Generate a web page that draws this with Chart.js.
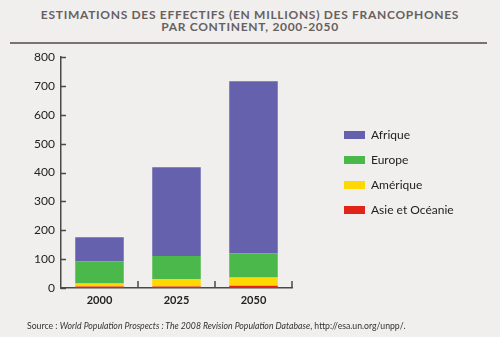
<!DOCTYPE html>
<html>
<head>
<meta charset="utf-8">
<script src="https://cdn.jsdelivr.net/npm/chart.js@4"></script>
<style>
  html, body { margin: 0; padding: 0; background: #f0efed; }
  #wrap { position: relative; width: 500px; height: 337px; overflow: hidden; }
  #title {
    position: absolute; top: 9px; left: 0; width: 500px; text-align: center;
    font: bold 12px/12px Lato, sans-serif; color: #676060; letter-spacing: 0.7px;
  }
  #rule { position: absolute; top: 42px; left: 10px; width: 477px; height: 2px; background: #7a7272; }
  #source {
    position: absolute; top: 320px; left: 27px;
    font: 8.7px Lato, sans-serif; color: #333;
  }
  canvas { position: absolute; top: 0; left: 0; }
</style>
</head>
<body>
<div id="wrap">
  <div id="title">ESTIMATIONS DES EFFECTIFS (EN MILLIONS) DES FRANCOPHONES<br>PAR CONTINENT, 2000-2050</div>
  <div id="rule"></div>
  <canvas id="chart" width="500" height="337"></canvas>
  <div id="source">Source : <i>World Population Prospects : The 2008 Revision Population Database</i>, http://esa.un.org/unpp/.</div>
</div>
<script>
const years = ["2000", "2025", "2050"];
const asie = [5, 5, 8];
const amerique = [11, 25, 28];
const europe = [76, 81, 84];
const afrique = [84, 307, 596];
const yTicks = [0, 100, 200, 300, 400, 500, 600, 700, 800];

// ticks drawn inside the axes, like the original
const innerTicks = {
  id: "innerTicks",
  afterDraw(chart) {
    const { ctx, scales: { x, y } } = chart;
    ctx.save();
    ctx.strokeStyle = "#4a4a4a";
    ctx.lineWidth = 1.5;
    ctx.beginPath();
    yTicks.forEach(v => {
      const py = Math.round(y.getPixelForValue(v)) + 0.5;
      ctx.moveTo(x.left, py);
      ctx.lineTo(x.left + 5, py);
    });
    const half = (x.getPixelForValue(1) - x.getPixelForValue(0)) / 2;
    years.forEach((_, i) => {
      const px = Math.round(x.getPixelForValue(i) + half);
      ctx.moveTo(px, y.bottom);
      ctx.lineTo(px, y.bottom - 7);
    });
    ctx.stroke();
    ctx.restore();
  }
};

// push the legend away from the plot
const legendGap = {
  id: "legendGap",
  beforeInit(chart) {
    const lg = chart.legend;
    if (!lg) return;
    const fit = lg.fit;
    lg.fit = function () {
      fit.call(this);
      this.width = 208;
    };
  },
  afterLayout(chart) {
    if (chart.legend) {
      chart.legend.left += 39;
      chart.legend.right += 39;
    }
  }
};

const ctx = document.getElementById("chart").getContext("2d");

new Chart(ctx, {
  type: "bar",
  data: {
    labels: years,
    datasets: [
      { label: "Asie et Océanie", data: asie, backgroundColor: "#e2231a" },
      { label: "Amérique", data: amerique, backgroundColor: "#fed800" },
      { label: "Europe", data: europe, backgroundColor: "#4bb84b" },
      { label: "Afrique", data: afrique, backgroundColor: "#6661ad" }
    ]
  },
  options: {
    responsive: false,
    animation: false,
    layout: { padding: { top: 57, left: 0, right: 0, bottom: 0 } },
    datasets: { bar: { barPercentage: 0.63, categoryPercentage: 1 } },
    plugins: {
      title: { display: false },
      tooltip: { enabled: false },
      legend: {
        position: "right",
        fullSize: false,
        reverse: true,
        labels: {
          boxWidth: 21,
          boxHeight: 8,
          padding: 13,
          color: "#222",
          font: { family: "Lato", size: 12 }
        }
      }
    },
    scales: {
      x: {
        stacked: true,
        grid: { display: false, drawTicks: false },
        border: { color: "#4a4a4a", width: 1.5 },
        ticks: { color: "#222", padding: 6, font: { family: "Lato", size: 11, weight: "bold" } },
        afterFit(s) { s.height = 49; }
      },
      y: {
        stacked: true,
        min: 0,
        max: 800,
        afterBuildTicks(s) { s.ticks = yTicks.map(v => ({ value: v })); },
        grid: { display: false, drawTicks: false },
        border: { color: "#4a4a4a", width: 1.5 },
        ticks: { color: "#222", padding: 6, font: { family: "Lato", size: 12 } },
        afterFit(s) { s.width = 61; }
      }
    }
  },
  plugins: [innerTicks, legendGap]
});
</script>
</body>
</html>
